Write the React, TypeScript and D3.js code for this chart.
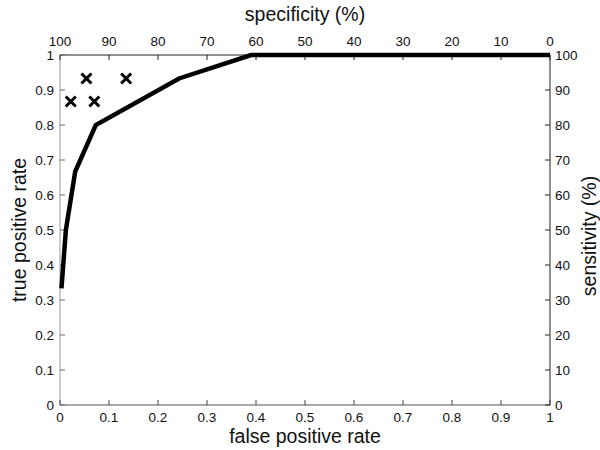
import React from "react";
import * as d3 from "d3";

const rocFpr = [0.003, 0.012, 0.031, 0.073, 0.243, 0.39, 1.0];
const rocTpr = [0.333, 0.5, 0.667, 0.8, 0.933, 1.0, 1.0];
const crossFpr = [0.022, 0.054, 0.07, 0.135];
const crossTpr = [0.867, 0.933, 0.867, 0.933];
const leftTicks = [0, 0.1, 0.2, 0.3, 0.4, 0.5, 0.6, 0.7, 0.8, 0.9, 1];
const bottomTicks = [0, 0.1, 0.2, 0.3, 0.4, 0.5, 0.6, 0.7, 0.8, 0.9, 1];
const topTicks = [100, 90, 80, 70, 60, 50, 40, 30, 20, 10, 0];
const rightTicks = [0, 10, 20, 30, 40, 50, 60, 70, 80, 90, 100];

export default function App() {
  const W = 600, H = 450;
  const L = 60, R = 550, T = 55, B = 405;
  const x = d3.scaleLinear().domain([0, 1]).range([L, R]);
  const y = d3.scaleLinear().domain([0, 1]).range([B, T]);
  const xTop = d3.scaleLinear().domain([100, 0]).range([L, R]);
  const yRight = d3.scaleLinear().domain([0, 100]).range([B, T]);
  const line = d3.line<number>().x((_, i) => x(rocFpr[i])).y((_, i) => y(rocTpr[i]));
  const font = "'Liberation Sans', Arial, sans-serif";
  const tl = 5;
  const cs = 5;
  const fs = 13.5;
  const tfs = 19.5;
  return (
    <svg width={W} height={H} style={{ position: "absolute", left: 0, top: 0 }} fontFamily={font}>
      <rect x={0} y={0} width={W} height={H} fill="white" />
      <line x1={L} y1={T} x2={L} y2={B} stroke="#999" strokeWidth={1} />
      <line x1={L} y1={B} x2={R} y2={B} stroke="#555" strokeWidth={1} />
      <line x1={L} y1={T} x2={R} y2={T} stroke="#222" strokeWidth={1} />
      <line x1={R} y1={T} x2={R} y2={B} stroke="#222" strokeWidth={1} />
      {leftTicks.map((t) => (
        <g key={"l" + t}>
          <line x1={L} x2={L + tl} y1={y(t)} y2={y(t)} stroke="#666" />
          <text x={L - 6} y={y(t)} dy="0.35em" textAnchor="end" fontSize={fs} fill="#111">{t}</text>
        </g>
      ))}
      {bottomTicks.map((t) => (
        <g key={"b" + t}>
          <line x1={x(t)} x2={x(t)} y1={B} y2={B - tl} stroke="#444" />
          <text x={x(t)} y={B + 17} textAnchor="middle" fontSize={fs} fill="#111">{t}</text>
        </g>
      ))}
      {topTicks.map((t) => (
        <g key={"t" + t}>
          <line x1={xTop(t)} x2={xTop(t)} y1={T} y2={T + tl} stroke="#222" />
          <text x={xTop(t)} y={T - 9} textAnchor="middle" fontSize={fs} fill="#111">{t}</text>
        </g>
      ))}
      {rightTicks.map((t) => (
        <g key={"r" + t}>
          <line x1={R - tl} x2={R} y1={yRight(t)} y2={yRight(t)} stroke="#222" />
          <text x={R + 5} y={yRight(t)} dy="0.35em" textAnchor="start" fontSize={fs} fill="#111">{t}</text>
        </g>
      ))}
      <path d={line(rocFpr) || ""} fill="none" stroke="#000" strokeWidth={4.5} strokeLinejoin="miter" />
      {crossFpr.map((f, i) => (
        <g key={"c" + i} stroke="#000" strokeWidth={3}>
          <line x1={x(f) - cs} y1={y(crossTpr[i]) - cs} x2={x(f) + cs} y2={y(crossTpr[i]) + cs} />
          <line x1={x(f) - cs} y1={y(crossTpr[i]) + cs} x2={x(f) + cs} y2={y(crossTpr[i]) - cs} />
        </g>
      ))}
      <text x={(L + R) / 2} y={443} textAnchor="middle" fontSize={tfs} fill="#111">false positive rate</text>
      <text x={(L + R) / 2} y={21} textAnchor="middle" fontSize={tfs} fill="#111">specificity (%)</text>
      <text transform={`translate(26,${(T + B) / 2}) rotate(-90)`} textAnchor="middle" fontSize={tfs} fill="#111">true positive rate</text>
      <text transform={`translate(596,${(T + B) / 2 + 6}) rotate(-90)`} textAnchor="middle" fontSize={tfs} fill="#111">sensitivity (%)</text>
    </svg>
  );
}
